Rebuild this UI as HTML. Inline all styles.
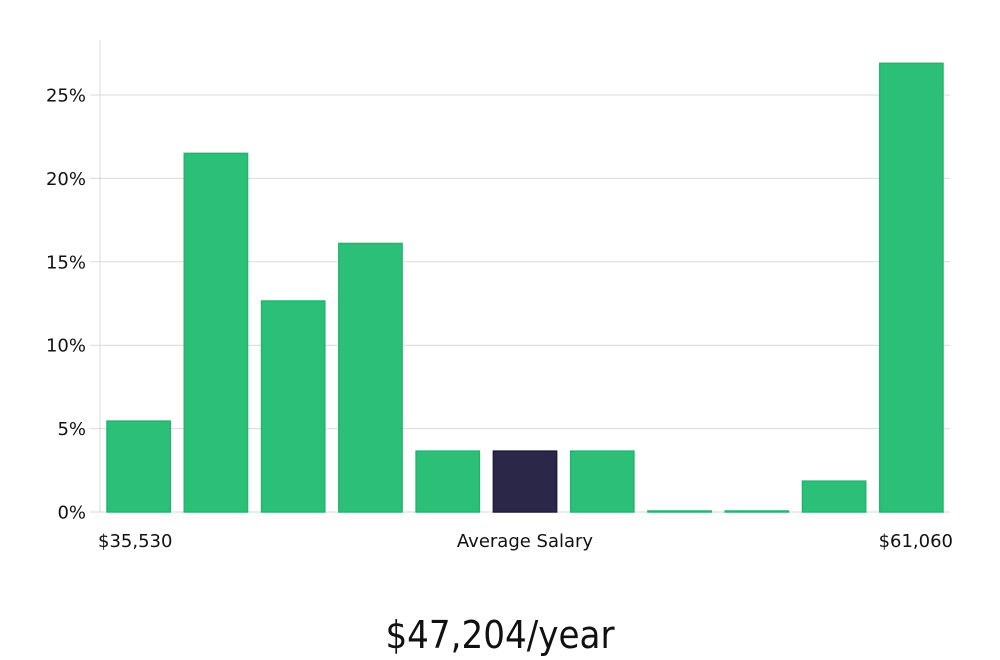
<!DOCTYPE html>
<html><head><meta charset="utf-8"><style>
html,body{margin:0;padding:0;background:#fff;width:1000px;height:660px;overflow:hidden}
svg text{font-family:"DejaVu Sans","Liberation Sans",sans-serif;fill:#111}
</style></head><body>
<svg id="chart" width="1000" height="660" xmlns="http://www.w3.org/2000/svg">
<g id="grid"></g>
<g id="bars"></g>
<g id="yticks"></g>
<text x="98" y="547" font-size="18">$35,530</text>
<text x="525" y="547" font-size="18" text-anchor="middle">Average Salary</text>
<text x="953" y="547" font-size="18" text-anchor="end">$61,060</text>
<text x="500" y="648" font-size="38" text-anchor="middle" style="font-family:'Liberation Sans Narrow','DejaVu Sans Condensed','Liberation Sans',sans-serif;font-weight:300">$47,204/year</text>
</svg>
<script>
const categories=["b1","b2","b3","b4","b5","b6","b7","b8","b9","b10","b11"];
const values=[5.45,21.5,12.65,16.1,3.65,3.65,3.65,0.05,0.05,1.85,26.9];
const highlight=[false,false,false,false,false,true,false,false,false,false,false];
const yTicks=[0,5,10,15,20,25];
const NS="http://www.w3.org/2000/svg";
const x0=100,x1=950,yBase=512,yTop=40,pxPer=16.68;
function y(v){return yBase-v*pxPer;}
const step=(x1-x0)/categories.length;
function xb(i){return x0+i*step+7;}
const bw=step-14;
const grid=document.getElementById('grid'),yt=document.getElementById('yticks'),bars=document.getElementById('bars');
yTicks.forEach(t=>{
  const l=document.createElementNS(NS,'line');
  
  
  l.setAttribute('x1',90);l.setAttribute('x2',x1);l.setAttribute('y1',y(t));l.setAttribute('y2',y(t));
  l.setAttribute('stroke','#d9d9d9');l.setAttribute('stroke-width','1');
  grid.appendChild(l);
  const tx=document.createElementNS(NS,'text');
  
  
  tx.setAttribute('x',86);tx.setAttribute('y',y(t)+6.5);tx.setAttribute('font-size','18');tx.setAttribute('text-anchor','end');
  tx.textContent=t+'%';yt.appendChild(tx);
});
const ax=document.createElementNS(NS,'line');


ax.setAttribute('x1',x0);ax.setAttribute('x2',x0);ax.setAttribute('y1',yTop);ax.setAttribute('y2',yBase);
ax.setAttribute('stroke','#d9d9d9');grid.appendChild(ax);
values.forEach((v,i)=>{
  const r=document.createElementNS(NS,'rect');
  
  
  const h=Math.max(v*pxPer,1);
  r.setAttribute('x',xb(i));r.setAttribute('y',yBase-h);r.setAttribute('width',bw);r.setAttribute('height',h);
  r.setAttribute('fill',highlight[i]?'#2a2748':'#2bbf78');
  r.setAttribute('stroke',highlight[i]?'#1e1b3a':'#22b56d');r.setAttribute('stroke-width','1.5');
  bars.appendChild(r);
});
</script>
</body></html>
